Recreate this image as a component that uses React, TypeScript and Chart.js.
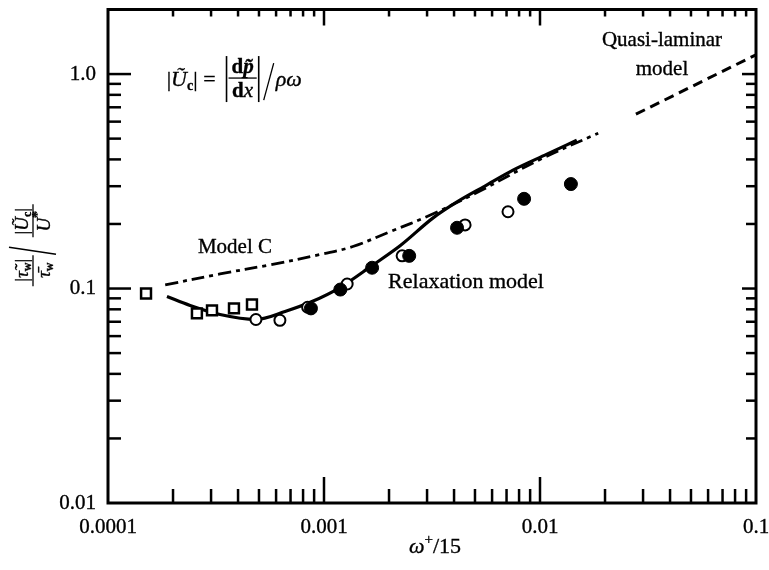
import React, { useEffect, useRef } from 'react';
import { Chart, registerables } from 'chart.js';

Chart.register(...registerables);

// ---- tick labels ----
const xTickValues = [0.0001, 0.001, 0.01, 0.1];
const xTickLabels = ['0.0001', '0.001', '0.01', '0.1'];
const yTickValues = [0.01, 0.1, 1];
const yTickLabels = ['0.01', '0.1', '1.0'];

// ---- experimental data ----
const squaresX = [1.5e-4, 2.58e-4, 3.03e-4, 3.83e-4, 4.64e-4];
const squaresY = [0.0948, 0.0766, 0.0791, 0.0808, 0.0843];
const openX = [4.84e-4, 6.25e-4, 8.4e-4, 1.28e-3, 2.3e-3, 4.5e-3, 7.11e-3];
const openY = [0.0717, 0.0711, 0.0818, 0.105, 0.142, 0.198, 0.228];
const filledX = [8.7e-4, 1.19e-3, 1.67e-3, 2.48e-3, 4.13e-3, 8.44e-3, 1.39e-2];
const filledY = [0.0808, 0.0989, 0.125, 0.142, 0.192, 0.262, 0.307];

// ---- model curves ----
const relaxX = [1.875e-4, 2.4e-4, 3.3e-4, 4.84e-4, 6.6e-4, 8.8e-4, 1.186e-3, 1.667e-3, 2.25e-3, 3.2e-3, 4.13e-3, 5.56e-3, 7.5e-3, 1.077e-2, 1.48e-2];
const relaxY = [0.0918, 0.0834, 0.0757, 0.0718, 0.0782, 0.087, 0.1011, 0.1278, 0.1583, 0.2135, 0.2534, 0.3006, 0.3565, 0.4232, 0.4914];
const modelCX = [1.84e-4, 3.3e-4, 5.62e-4, 9.58e-4, 1.36e-3, 2.02e-3, 3.11e-3, 5.27e-3, 1.0e-2, 1.86e-2];
const modelCY = [0.104, 0.117, 0.129, 0.144, 0.157, 0.184, 0.22, 0.285, 0.40, 0.53];
const quasiX = [0.0278, 0.1];
const quasiY = [0.65, 1.23];

const FONT = "'Liberation Serif', 'Times New Roman', serif";
const STROKE = 0.35;

type Run = { t: string; size: number; italic?: boolean; bold?: boolean; dy?: number };

function fontOf(r: Run) {
  return `${r.italic ? 'italic ' : ''}${r.bold ? 'bold ' : ''}${r.size}px ${FONT}`;
}
function runsWidth(ctx: CanvasRenderingContext2D, runs: Run[]) {
  let w = 0;
  for (const r of runs) {
    ctx.font = fontOf(r);
    w += ctx.measureText(r.t).width;
  }
  return w;
}
function drawRuns(ctx: CanvasRenderingContext2D, x: number, y: number, runs: Run[], align: 'left' | 'center' | 'right' = 'left') {
  const w = runsWidth(ctx, runs);
  let cx = align === 'center' ? x - w / 2 : align === 'right' ? x - w : x;
  ctx.textAlign = 'left';
  ctx.textBaseline = 'alphabetic';
  const lw = ctx.lineWidth;
  ctx.lineWidth = STROKE;
  for (const r of runs) {
    ctx.font = fontOf(r);
    ctx.fillText(r.t, cx, y + (r.dy || 0));
    ctx.strokeText(r.t, cx, y + (r.dy || 0));
    cx += ctx.measureText(r.t).width;
  }
  ctx.lineWidth = lw;
  return w;
}
function seg(ctx: CanvasRenderingContext2D, x1: number, y1: number, x2: number, y2: number) {
  ctx.beginPath();
  ctx.moveTo(x1, y1);
  ctx.lineTo(x2, y2);
  ctx.stroke();
}
function label(ctx: CanvasRenderingContext2D, t: string, x: number, y: number) {
  ctx.fillText(t, x, y);
  ctx.lineWidth = STROKE;
  ctx.strokeText(t, x, y);
}

function logTicks(min: number, max: number) {
  const out: { v: number; major: boolean }[] = [];
  for (let e = Math.floor(Math.log10(min)); e <= Math.ceil(Math.log10(max)); e++) {
    for (let m = 1; m <= 9; m++) {
      const v = m * Math.pow(10, e);
      if (v >= min * 0.999 && v <= max * 1.001) out.push({ v, major: m === 1 });
    }
  }
  return out;
}

const framePlugin = {
  id: 'frame',
  afterDraw(chart: any) {
    const { ctx, chartArea, scales } = chart;
    const { left, right, top, bottom } = chartArea;
    const x = scales.x;
    const y = scales.y;
    ctx.save();
    ctx.strokeStyle = '#000';
    ctx.fillStyle = '#000';
    ctx.lineCap = 'butt';
    ctx.lineWidth = 2.5;
    for (const t of logTicks(x.min, x.max)) {
      const px = x.getPixelForValue(t.v);
      if (px <= left + 2 || px >= right - 2) continue;
      seg(ctx, px, bottom, px, bottom - (t.major ? 26 : 14));
      seg(ctx, px, top, px, top + (t.major ? 16 : 7));
    }
    for (const t of logTicks(y.min, y.max)) {
      const py = y.getPixelForValue(t.v);
      if (py <= top + 2 || py >= bottom - 2) continue;
      seg(ctx, left, py, left + (t.major ? 23 : 13), py);
      seg(ctx, right, py, right - (t.major ? 14 : 10), py);
    }
    ctx.lineWidth = 3;
    ctx.strokeRect(left, top, right - left, bottom - top);

    // curve labels
    ctx.textBaseline = 'middle';
    ctx.font = `21px ${FONT}`;
    ctx.textAlign = 'center';
    label(ctx, 'Model C', x.getPixelForValue(3.87e-4), y.getPixelForValue(0.155));
    label(ctx, 'Quasi-laminar', x.getPixelForValue(0.0367), y.getPixelForValue(1.43));
    label(ctx, 'model', x.getPixelForValue(0.0367), y.getPixelForValue(1.05));
    ctx.textAlign = 'left';
    ctx.font = `22px ${FONT}`;
    label(ctx, 'Relaxation model', x.getPixelForValue(1.98e-3), y.getPixelForValue(0.1066));

    // formula annotation
    const ax = x.getPixelForValue(1.87e-4);
    const yb = y.getPixelForValue(1.0) + 4;
    let cx = ax;
    cx += drawRuns(ctx, cx, yb + 8, [
      { t: '|', size: 22 },
      { t: 'U\u0303', size: 22, italic: true },
      { t: 'c', size: 14, dy: 4, bold: true },
      { t: '|', size: 22 },
      { t: ' =  ', size: 22 },
    ]);
    ctx.lineWidth = 1.6;
    seg(ctx, cx, yb - 22, cx, yb + 24);
    const num: Run[] = [{ t: 'd', size: 21, bold: true }, { t: 'p\u0303', size: 21, italic: true, bold: true }];
    const den: Run[] = [{ t: 'd', size: 21, bold: true }, { t: 'x', size: 21, italic: true }];
    const fw = Math.max(runsWidth(ctx, num), runsWidth(ctx, den)) + 6;
    const fc = cx + 2 + fw / 2;
    drawRuns(ctx, fc, yb - 5, num, 'center');
    drawRuns(ctx, fc, yb + 19, den, 'center');
    ctx.lineWidth = 1.3;
    seg(ctx, cx + 2, yb, cx + 2 + fw, yb);
    cx += fw + 4;
    ctx.lineWidth = 1.6;
    seg(ctx, cx, yb - 22, cx, yb + 24);
    cx += 4;
    ctx.lineWidth = 1.3;
    seg(ctx, cx + 1, yb + 22, cx + 11, yb - 15);
    cx += 13;
    drawRuns(ctx, cx, yb + 8, [{ t: '\u03C1\u03C9', size: 22, italic: true }]);

    // x axis title
    drawRuns(ctx, (left + right) / 2 + 3, 553, [
      { t: '\u03C9', size: 22, italic: true },
      { t: '+', size: 15, dy: -9 },
      { t: '/15', size: 22 },
    ], 'center');

    // y axis title (rotated)
    ctx.save();
    ctx.translate(33, (top + bottom) / 2 - 10);
    ctx.rotate(-Math.PI / 2);
    const fs = 19;
    drawRuns(ctx, -24, -5, [
      { t: '|', size: fs },
      { t: '\u03C4\u0303', size: fs, italic: true },
      { t: 'w', size: 12, dy: 3, bold: true },
      { t: '|', size: fs },
    ], 'center');
    drawRuns(ctx, -24, 17, [
      { t: '\u03C4\u0304', size: fs, italic: true },
      { t: 'w', size: 12, dy: 3, bold: true },
    ], 'center');
    ctx.lineWidth = 1.3;
    seg(ctx, -40, 0, -9, 0);
    seg(ctx, -8, 23, -1, -24);
    drawRuns(ctx, 25, -5, [
      { t: '|', size: fs },
      { t: 'U\u0303', size: fs, italic: true },
      { t: 'c', size: 12, dy: 3, bold: true },
      { t: '|', size: fs },
    ], 'center');
    drawRuns(ctx, 25, 17, [
      { t: 'U', size: fs, italic: true },
      { t: '*', size: 14, dy: -8, bold: true },
    ], 'center');
    ctx.lineWidth = 1.3;
    seg(ctx, 9, 0, 42, 0);
    ctx.restore();

    ctx.restore();
  },
};

function pts(xs: number[], ys: number[]) {
  return xs.map((v, i) => ({ x: v, y: ys[i] }));
}

export default function App() {
  const ref = useRef<HTMLCanvasElement | null>(null);
  useEffect(() => {
    if (!ref.current) return;
    const tickFont = { family: FONT, size: 21 };
    const chart = new Chart(ref.current, {
      type: 'scatter',
      data: {
        datasets: [
          {
            label: 'Squares',
            data: pts(squaresX, squaresY),
            pointStyle: 'rect',
            pointRadius: 7,
            pointBorderWidth: 2.5,
            pointBackgroundColor: '#fff',
            pointBorderColor: '#000',
            order: 3,
          } as any,
          {
            label: 'Open',
            data: pts(openX, openY),
            pointStyle: 'circle',
            pointRadius: 5.5,
            pointBorderWidth: 2,
            pointBackgroundColor: '#fff',
            pointBorderColor: '#000',
            order: 2,
          },
          {
            label: 'Filled',
            data: pts(filledX, filledY),
            pointStyle: 'circle',
            pointRadius: 6.5,
            pointBorderWidth: 1,
            pointBackgroundColor: '#000',
            pointBorderColor: '#000',
            order: 1,
          },
          {
            label: 'Relaxation model',
            data: pts(relaxX, relaxY),
            showLine: true,
            borderColor: '#000',
            borderWidth: 3.2,
            cubicInterpolationMode: 'monotone',
            pointRadius: 0,
            order: 6,
          },
          {
            label: 'Model C',
            data: pts(modelCX, modelCY),
            showLine: true,
            borderColor: '#000',
            borderWidth: 2.8,
            borderDash: [13, 5, 4, 5],
            tension: 0.35,
            pointRadius: 0,
            order: 7,
          },
          {
            label: 'Quasi-laminar model',
            data: pts(quasiX, quasiY),
            showLine: true,
            borderColor: '#000',
            borderWidth: 3,
            borderDash: [10, 6],
            pointRadius: 0,
            order: 8,
          },
        ],
      },
      options: {
        responsive: false,
        animation: false,
        devicePixelRatio: 1,
        layout: { padding: { top: 8, right: 13, left: 0, bottom: 0 } },
        plugins: { legend: { display: false }, tooltip: { enabled: false } },
        scales: {
          x: {
            type: 'logarithmic',
            min: 0.0001,
            max: 0.1,
            grid: { display: false, drawTicks: false },
            border: { display: false },
            afterBuildTicks: (s: any) => {
              s.ticks = xTickValues.map((v) => ({ value: v, major: true }));
            },
            afterFit: (s: any) => {
              s.height = 67;
              s.paddingLeft = 0;
              s.paddingRight = 0;
            },
            ticks: {
              autoSkip: false,
              maxRotation: 0,
              padding: 12,
              color: '#000',
              textStrokeColor: '#000',
              textStrokeWidth: STROKE,
              font: tickFont,
              callback: (_v: any, i: number) => xTickLabels[i],
            },
          },
          y: {
            type: 'logarithmic',
            min: 0.01,
            max: 2,
            grid: { display: false, drawTicks: false },
            border: { display: false },
            afterBuildTicks: (s: any) => {
              s.ticks = yTickValues.map((v) => ({ value: v, major: true }));
            },
            afterFit: (s: any) => {
              s.width = 108;
              s.paddingTop = 0;
              s.paddingBottom = 0;
            },
            ticks: {
              autoSkip: false,
              padding: 12,
              color: '#000',
              textStrokeColor: '#000',
              textStrokeWidth: STROKE,
              font: tickFont,
              callback: (_v: any, i: number) => yTickLabels[i],
            },
          },
        },
      },
      plugins: [framePlugin],
    } as any);
    return () => chart.destroy();
  }, []);
  return (
    <div style={{ position: 'fixed', left: 0, top: 0, width: 769, height: 570, background: '#fff' }}>
      <canvas ref={ref} width={769} height={570} style={{ display: 'block' }} />
    </div>
  );
}
